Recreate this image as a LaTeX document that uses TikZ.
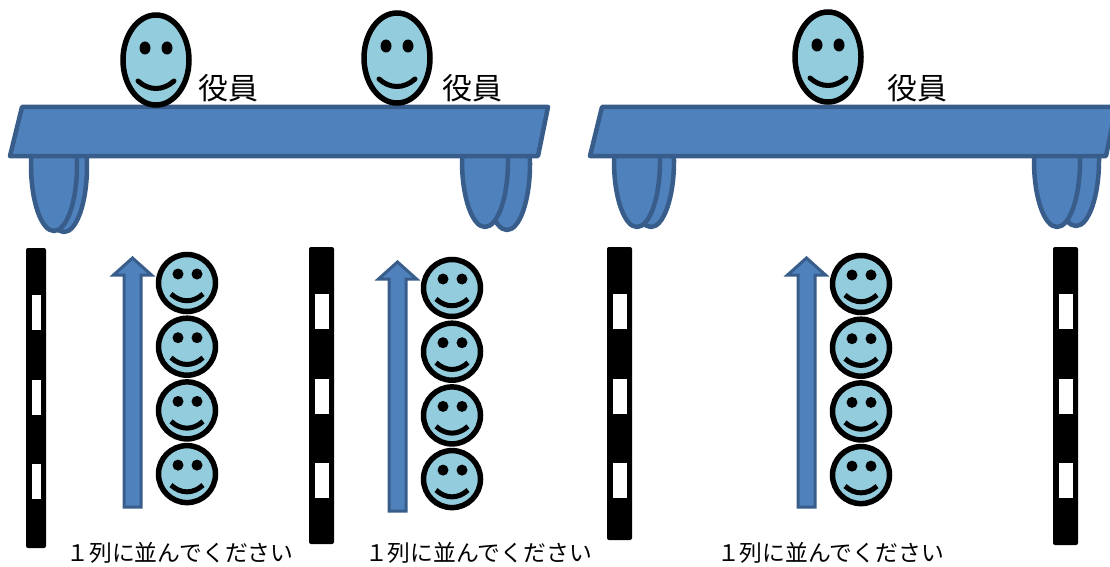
\documentclass[tikz,border=0pt]{standalone}
\usepackage{fontspec}
\newfontfamily\jpfont{Noto Sans CJK JP}
\definecolor{deskfill}{RGB}{79,129,189}
\definecolor{deskline}{RGB}{56,93,138}
\definecolor{skin}{RGB}{147,205,221}

\begin{document}
\begin{tikzpicture}[x=1pt,y=-1pt,
	desk/.style={fill=deskfill,draw=deskline,line width=4.5pt,line join=round},
	face/.style={fill=skin,draw=black,line width=5.5pt},
	bosstxt/.style={font=\jpfont\fontsize{30}{32}\selectfont,inner sep=0pt},
	queuetxt/.style={font=\jpfont\fontsize{22.8}{26}\selectfont,inner sep=0pt}]
		\useasboundingbox (0,0) rectangle (1110,567);
		\clip (0,0) rectangle (1110,567);
		% legs, back one first
		\begin{scope}
		\clip (0,140) rectangle (1110,300);
		\foreach \x / \y in {64/166,54/165,507/164,485/161,651/161,637/161,1076/160,1057/161} { \filldraw[desk] (\x,\y) ellipse [x radius=23,y radius=66];}
		\end{scope}
		% desks
		\filldraw[desk] (22,107) -- (548,107) -- (538,156) -- (10,156) -- cycle;
		\filldraw[desk] (602,107) -- (1116,107) -- (1106,156) -- (590,156) -- cycle;
		% officers
		\foreach \x / \y in {156/60,397/58,828/57} {
			\filldraw[face] (\x,\y) ellipse [x radius=33,y radius=45];
			\fill ({\x-11},{\y-12}) ellipse [x radius=5.5,y radius=6.5];
			\fill ({\x+11},{\y-12}) ellipse [x radius=5.5,y radius=6.5];
			\draw[line width=5pt,line cap=round] ({\x-18},{\y+21}) .. controls ({\x-7},{\y+31}) and ({\x+7},{\y+31}) .. ({\x+18},{\y+21});
		}
		\node[bosstxt] (boss1) at (228,88) {役員};
		\node[bosstxt] (boss2) at (472,88) {役員};
		\node[bosstxt] (boss3) at (917,88) {役員};
		% poles
		\foreach \x / \y / \w / \h in {26/248/20/300,309/247/25/297,607/247/25/293,1053/247/25/298} {
			\fill[rounded corners=2pt] (\x,\y) rectangle +(\w,\h);
			\foreach \s in {47,132,216} { \fill[white] ({\x+5.5},{\y+\s}) rectangle +({\w-11},35);}
		}
		% arrows
		\foreach \x / \t / \b in {132.5/258/507,397.5/262/511,806.5/258/507} {
			\filldraw[fill=deskfill,draw=deskline,line width=3pt] ({\x-8.5},\b) -- ({\x-8.5},{\t+17}) -- ({\x-19},{\t+17}) -- (\x,\t) -- ({\x+19},{\t+17}) -- ({\x+8.5},{\t+17}) -- ({\x+8.5},\b) -- cycle;
		}
		% queue
		\foreach \x / \y in {187/283,452/288,861/284} {
			\foreach \k [evaluate=\k as \yy using \y+63.7*\k] in {0,...,3} {
				\filldraw[face] (\x,\yy) circle [radius=28.5];
				\fill ({\x-9},{\yy-9}) circle [radius=5.5];
				\fill ({\x+10},{\yy-9}) circle [radius=5.5];
				\draw[line width=5pt] ({\x-16},{\yy+11}) .. controls ({\x-6},{\yy+20}) and ({\x+6},{\yy+20}) .. ({\x+16},{\yy+11});
			}
		}
		\node[queuetxt] (line1) at (180,553) {１列に並んでください};
		\node[queuetxt] (line2) at (478.5,553) {１列に並んでください};
		\node[queuetxt] (line3) at (830.5,553) {１列に並んでください};
	\end{tikzpicture}
\end{document}
